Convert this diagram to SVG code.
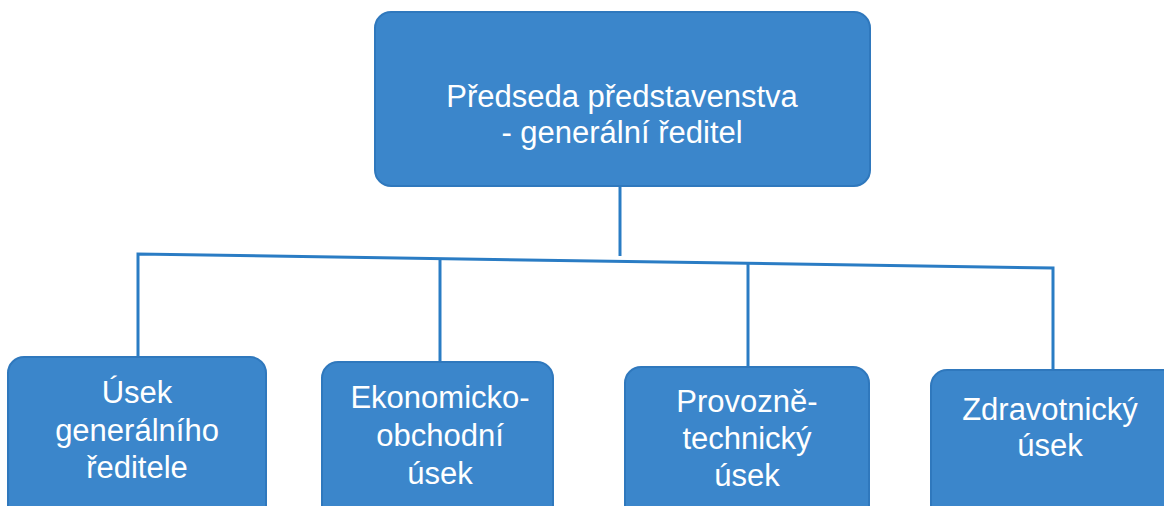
<svg xmlns="http://www.w3.org/2000/svg" width="1164" height="506" viewBox="0 0 1164 506">
<style>
.box{fill:#3b86cb;stroke:#2f78bd;stroke-width:2}
.t{fill:#ffffff;font-family:"Liberation Sans",Arial,sans-serif;font-size:31px;text-anchor:middle}
.c{stroke:#2a7cc4;stroke-width:3;fill:none}
</style>
<rect width="1164" height="506" fill="#ffffff"/>
<g id="connectors">
<path class="c" d="M620,186 V256"/>
<path class="c" d="M138,357 V254 L1053,268 V370"/>
<path class="c" d="M440,362 V258.5"/>
<path class="c" d="M748,367 V263"/>
</g>
<g id="n0">
<rect class="box" x="375" y="12" width="495" height="174" rx="16"/>
<text class="t" x="622" y="107">Předseda představenstva</text>
<text class="t" x="622" y="143">- generální ředitel</text>
</g>
<g id="n1">
<rect class="box" x="8" y="357" width="258" height="170" rx="16"/>
<text class="t" x="137" y="403">Úsek</text>
<text class="t" x="137" y="441">generálního</text>
<text class="t" x="137" y="478">ředitele</text>
</g>
<g id="n2">
<rect class="box" x="322" y="362" width="231" height="165" rx="16"/>
<text class="t" x="440" y="408">Ekonomicko-</text>
<text class="t" x="440" y="446">obchodní</text>
<text class="t" x="440" y="484">úsek</text>
</g>
<g id="n3">
<rect class="box" x="625" y="367" width="244" height="160" rx="16"/>
<text class="t" x="747" y="412">Provozně-</text>
<text class="t" x="747" y="449">technický</text>
<text class="t" x="747" y="486">úsek</text>
</g>
<g id="n4">
<rect class="box" x="931" y="370" width="250" height="160" rx="16"/>
<text class="t" x="1050" y="420">Zdravotnický</text>
<text class="t" x="1050" y="456">úsek</text>
</g>
</svg>
